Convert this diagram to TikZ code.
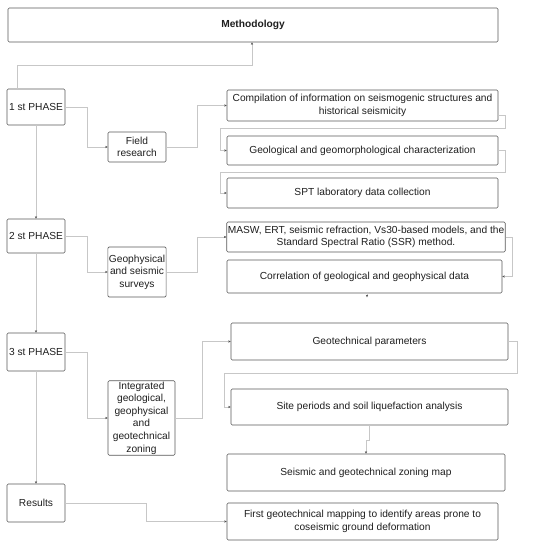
\documentclass[tikz,border=0pt]{standalone}
\usepackage{fontspec}
\setmainfont{Liberation Sans}
\usetikzlibrary{arrows.meta}
\begin{document}
\begin{tikzpicture}[x=1pt,y=-1pt,
  box/.style={draw=black!65, line width=0.6pt, rounded corners=1.2pt, align=center, inner sep=1pt,
    font=\fontsize{10.2}{12.6}\selectfont, text=black!88, fill=white},
  conn/.style={draw=black!22, line width=0.7pt, -{Stealth[length=2.5pt,width=2.2pt,color=black!70]}}]
\useasboundingbox[fill=white] (0,0) rectangle (550,548);

\node[box, minimum width=490pt, minimum height=34pt, font=\fontsize{10.2}{12.6}\selectfont\bfseries] (meth) at (253,25) {Methodology};
\node[box, minimum width=58pt, minimum height=36pt] (p1) at (36,107) {1 st PHASE};
\node[box, minimum width=58pt, minimum height=30pt] (field) at (137,147) {Field\\research};
\node[box, minimum width=271pt, minimum height=31pt] (comp) at (362.5,105.5) {Compilation of information on seismogenic structures and\\historical seismicity};
\node[box, minimum width=271pt, minimum height=29pt] (geol) at (362.5,150.5) {Geological and geomorphological characterization};
\node[box, minimum width=271pt, minimum height=30pt] (spt) at (362.5,193) {SPT laboratory data collection};
\node[box, minimum width=58pt, minimum height=34pt] (p2) at (36,236) {2 st PHASE};
\node[box, minimum width=58pt, minimum height=50pt] (geoph) at (137,272) {Geophysical\\and seismic\\surveys};
\node[box, minimum width=278pt, minimum height=30pt] (masw) at (366,237) {MASW, ERT, seismic refraction, Vs30-based models, and the\\Standard Spectral Ratio (SSR) method.};
\node[box, minimum width=275pt, minimum height=33pt] (corr) at (364.5,276.5) {Correlation of geological and geophysical data};
\node[box, minimum width=58pt, minimum height=38pt] (p3) at (36,352) {3 st PHASE};
\node[box, minimum width=67pt, minimum height=74pt] (integ) at (141.5,418) {Integrated\\geological,\\geophysical\\and\\geotechnical\\zoning};
\node[box, minimum width=277pt, minimum height=37pt] (gtp) at (369.5,341.5) {Geotechnical parameters};
\node[box, minimum width=277pt, minimum height=36pt] (site) at (369.5,407) {Site periods and soil liquefaction analysis};
\node[box, minimum width=278pt, minimum height=37pt] (zone) at (366,472.5) {Seismic and geotechnical zoning map};
\node[box, minimum width=58pt, minimum height=38pt] (res) at (36,503) {Results};
\node[box, minimum width=271pt, minimum height=37pt] (first) at (362.5,521.5) {First geotechnical mapping to identify areas prone to\\coseismic ground deformation};

\draw[conn] ([xshift=-19pt]p1.north) -- ++(0,-23) -| ([xshift=-1pt]meth.south);
\draw[conn] (p1.east) -- ++(22,0) |- (field.west);
\draw[conn] (field.east) -- ++(31,0) |- (comp.west);
\draw[conn] ([yshift=-9.5pt]comp.east) -- ++(7,0) -- ++(0,13) -- ++(-285,0) |- (geol.west);
\draw[conn] (geol.east) -- ++(7,0) -- ++(0,21.5) -- ++(-285,0) |- (spt.west);
\draw[conn] (p1.south) -- (p2.north);
\draw[conn] (p2.east) -- ++(22,0) |- (geoph.west);
\draw[conn] (geoph.east) -- ++(31,0) |- (masw.west);
\draw[conn] (masw.east) -- ++(7,0) |- (corr.east);
\draw[conn] ([xshift=2.5pt]corr.south) -- ++(0,4);
\draw[conn] (p2.south) -- (p3.north);
\draw[conn] (p3.east) -- ++(22,0) |- (integ.west);
\draw[conn] (integ.east) -- ++(27,0) |- (gtp.west);
\draw[conn] (gtp.east) -- ++(9,0) -- ++(0,31.5) -- ++(-293,0) |- (site.west);
\draw[conn] (site.south) -- ++(0,15) -| (zone.north);
\draw[conn] (p3.south) -- (res.north);
\draw[conn] (res.east) -- ++(81,0) |- (first.west);
\end{tikzpicture}
\end{document}
